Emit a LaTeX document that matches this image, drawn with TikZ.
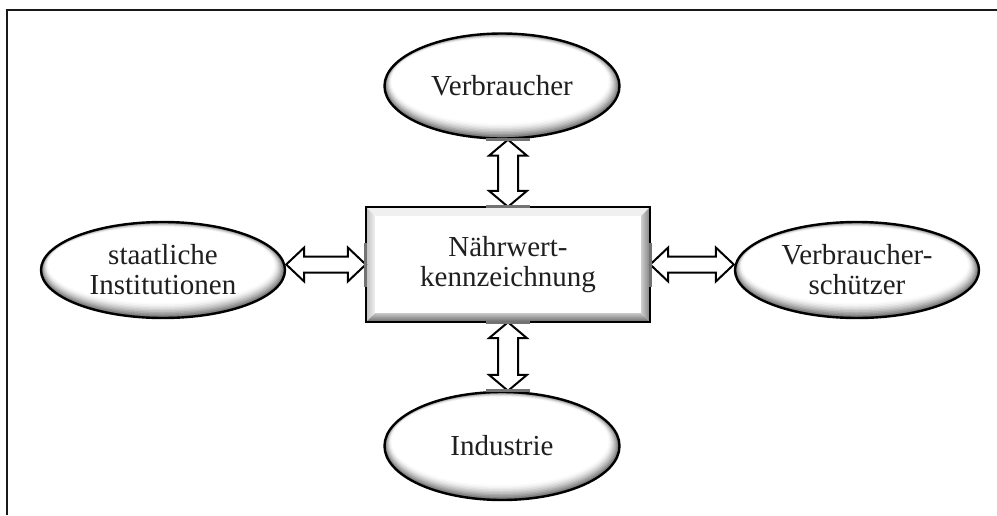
\documentclass[tikz,border=0pt]{standalone}
\usepackage{fontspec}
\setmainfont{Liberation Serif}
\usetikzlibrary{shapes.geometric,calc}
\pgfdeclarelayer{bg}
\pgfsetlayers{bg,main}
\tikzset{
  ell/.style={ellipse, draw=black, line width=2.4pt, inner sep=0pt,
    text=black!88, align=center, font=\fontsize{29}{30}\selectfont},
  mainbox/.style={rectangle, fill=white, inner sep=0pt, text=black!88, align=center,
    font=\fontsize{29}{30}\selectfont},
  barrow/.style={draw=black, line width=2pt, fill=white, line join=miter},
  glue/.style={draw=black!55, line width=3pt},
  frame/.style={draw=black!90, line width=2.2pt}
}
% soft bevel-like shading inside an ellipse node: #1 name, #2 x radius, #3 y radius
\newcommand\ellshade[3]{%
  \begin{pgfonlayer}{bg}
  \foreach \i in {0,...,10}{%
    \pgfmathsetmacro\t{\i/10}%
    \pgfmathsetmacro\cc{\i<10 ? 58*(1-\t)^1.6 : 0}%
    \fill[black!\cc] ($(#1.center)+({-2*\t},{-5*\t})$) ellipse [x radius={#2-9*\t}, y radius={#3-10*\t}];
  }
  \end{pgfonlayer}}
\newcommand\hdarrow[2]{%
  \draw[barrow] (#1) -- ($(#1)+(18,-17)$) -- ($(#1)+(18,-8)$) -- ($(#2)+(-18,-8)$)
    -- ($(#2)+(-18,-17)$) -- (#2) -- ($(#2)+(-18,17)$) -- ($(#2)+(-18,8)$)
    -- ($(#1)+(18,8)$) -- ($(#1)+(18,17)$) -- cycle;}
\newcommand\vdarrow[2]{%
  \draw[barrow] (#1) -- ($(#1)+(-19,16)$) -- ($(#1)+(-10,16)$) -- ($(#2)+(-10,-16)$)
    -- ($(#2)+(-19,-16)$) -- (#2) -- ($(#2)+(19,-16)$) -- ($(#2)+(10,-16)$)
    -- ($(#1)+(10,16)$) -- ($(#1)+(19,16)$) -- cycle;}
\begin{document}
\begin{tikzpicture}[x=1pt,y=-1pt]
\useasboundingbox (0,0) rectangle (997,515);
\begin{pgfonlayer}{bg}
\fill[white] (0,0) rectangle (997,515);
\end{pgfonlayer}
\draw[frame] (7,515) -- (7,10) -- (997,10);

% nodes
\node[ell, minimum width=235, minimum height=105] (vb) at (502,86) {Verbraucher};
\node[ell, minimum width=244, minimum height=96] (si) at (163,270) {staatliche\\Institutionen};
\node[ell, minimum width=244, minimum height=96] (vs) at (857,270) {Verbraucher-\\schützer};
\node[ell, minimum width=235, minimum height=108] (in) at (502,446) {Industrie};
\node[mainbox, minimum width=284, minimum height=115] (box) at (508,264.5) {Nährwert-\\kennzeichnung};
\ellshade{vb}{117.5}{52.5}
\ellshade{si}{122}{48}
\ellshade{vs}{122}{48}
\ellshade{in}{117.5}{54}

% bevel of the box
\fill[black!6] (box.north west) -- (box.north east) -- ($(box.north east)+(-9,9)$) -- ($(box.north west)+(9,9)$) -- cycle;
\shade[left color=black!25, right color=black!6] (box.north west) -- ($(box.north west)+(9,9)$) -- ($(box.south west)+(9,-9)$) -- (box.south west) -- cycle;
\shade[left color=black!20, right color=black!50] (box.north east) -- (box.south east) -- ($(box.south east)+(-9,-9)$) -- ($(box.north east)+(-9,9)$) -- cycle;
\shade[top color=black!22, bottom color=black!60] (box.south west) -- ($(box.south west)+(9,-9)$) -- ($(box.south east)+(-9,-9)$) -- (box.south east) -- cycle;
\draw[line width=2.4pt] (box.north west) rectangle (box.south east);

% connectors
\coordinate (la) at (si.east |- box.west);
\coordinate (lb) at (box.west);
\coordinate (ra) at (box.east);
\coordinate (rb) at (vs.west |- box.east);
\coordinate (ta) at (vb.south -| box.north);
\coordinate (tb) at (box.north);
\coordinate (ba) at (box.south);
\coordinate (bb) at (in.north -| box.south);
\hdarrow{la}{lb}
\hdarrow{ra}{rb}
\vdarrow{ta}{tb}
\vdarrow{ba}{bb}

% glue marks
\draw[glue] ($(tb)+(-22,0)$) -- ($(tb)+(22,0)$);
\draw[glue] ($(ta)+(-22,0)$) -- ($(ta)+(22,0)$);
\draw[glue] ($(ba)+(-22,0)$) -- ($(ba)+(22,0)$);
\draw[glue] ($(bb)+(-22,0)$) -- ($(bb)+(22,0)$);
\draw[glue] ($(lb)+(0,-22)$) -- ($(lb)+(0,22)$);
\draw[glue] ($(ra)+(0,-22)$) -- ($(ra)+(0,22)$);
\end{tikzpicture}
\end{document}
